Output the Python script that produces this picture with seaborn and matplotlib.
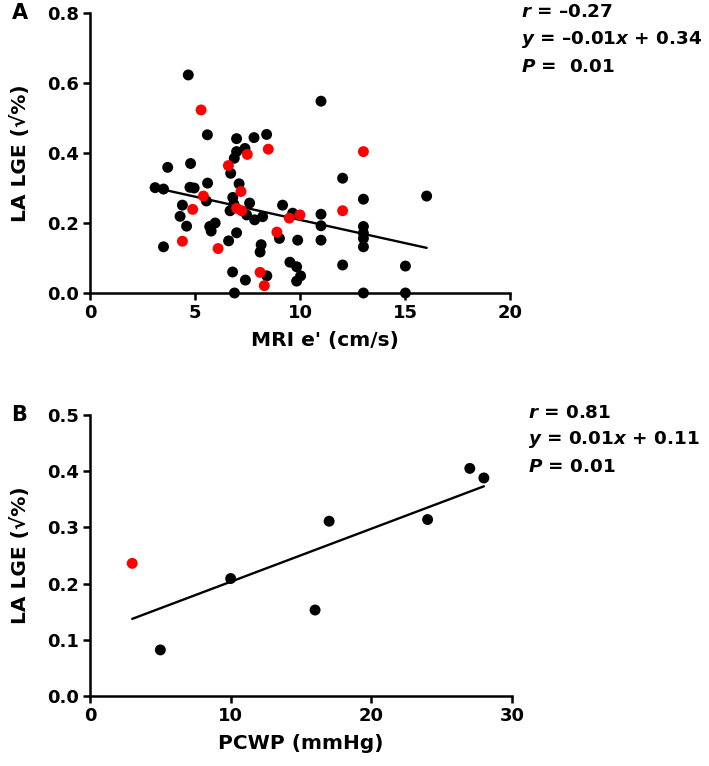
import matplotlib
matplotlib.use("Agg")
import matplotlib.pyplot as plt
import seaborn as sns
import pandas as pd
import numpy as np

# ---------------- data ----------------
# Panel A: MRI e' (cm/s) vs LA LGE (sqrt %)
a_black_x = [4.68, 5.59, 6.98, 7.81, 8.41, 7.38, 6.98, 6.87, 3.70, 4.79, 6.70, 3.10, 3.50,
             4.76, 4.96, 5.60, 7.10, 5.54, 6.80, 6.85, 7.60, 6.67, 4.40, 4.29, 4.60, 5.70,
             5.96, 5.77, 7.46, 7.84, 8.22, 6.98, 6.60, 3.50, 8.15, 8.10, 9.02, 6.79, 7.40,
             8.42, 6.88, 11.00, 12.03, 13.02, 9.17, 9.65, 11.00, 11.00, 13.02, 13.02, 13.02,
             13.02, 9.89, 11.00, 12.03, 9.52, 9.84, 10.03, 9.84, 13.02, 16.03, 15.02, 15.02]
a_black_y = [0.623, 0.452, 0.441, 0.444, 0.453, 0.413, 0.404, 0.385, 0.359, 0.370, 0.342,
             0.301, 0.297, 0.302, 0.300, 0.314, 0.312, 0.263, 0.273, 0.254, 0.257, 0.235,
             0.251, 0.219, 0.191, 0.190, 0.200, 0.177, 0.223, 0.209, 0.218, 0.172, 0.149,
             0.132, 0.138, 0.117, 0.156, 0.060, 0.037, 0.049, 0.000, 0.548, 0.328, 0.268,
             0.251, 0.228, 0.225, 0.192, 0.190, 0.171, 0.156, 0.132, 0.151, 0.151, 0.080,
             0.088, 0.075, 0.049, 0.034, 0.000, 0.277, 0.077, 0.000]
a_red_x = [5.29, 7.49, 8.49, 13.02, 6.59, 7.19, 5.40, 6.98, 7.22, 4.89, 9.49, 10.00,
           12.03, 8.90, 4.40, 6.10, 8.10, 8.30]
a_red_y = [0.523, 0.396, 0.411, 0.404, 0.364, 0.290, 0.277, 0.242, 0.235, 0.239, 0.214,
           0.223, 0.235, 0.174, 0.148, 0.127, 0.059, 0.021]
a_stats = ["$r$ = \u20130.27", "$y$ = \u20130.01$x$ + 0.34", "$P$ =  0.01"]

# Panel B: PCWP (mmHg) vs LA LGE (sqrt %)
b_black_x = [5, 10, 16, 17, 24, 27, 28]
b_black_y = [0.082, 0.209, 0.153, 0.311, 0.314, 0.405, 0.388]
b_red_x = [3]
b_red_y = [0.236]
b_stats = ["$r$ = 0.81", "$y$ = 0.01$x$ + 0.11", "$P$ = 0.01"]

a_xticks = [0, 5, 10, 15, 20]
a_yticks = [0.0, 0.2, 0.4, 0.6, 0.8]
b_xticks = [0, 10, 20, 30]
b_yticks = [0.0, 0.1, 0.2, 0.3, 0.4, 0.5]

# ---------------- style ----------------
sns.set_theme(style="ticks")
plt.rcParams["font.family"] = ["DejaVu Sans"]
plt.rcParams["font.weight"] = "bold"
plt.rcParams["axes.labelweight"] = "bold"
plt.rcParams["text.color"] = "black"
plt.rcParams["axes.labelcolor"] = "black"
plt.rcParams["xtick.color"] = "black"
plt.rcParams["ytick.color"] = "black"
plt.rcParams["mathtext.fontset"] = "custom"
plt.rcParams["mathtext.it"] = "DejaVu Sans:italic:bold"
plt.rcParams["mathtext.rm"] = "DejaVu Sans:bold"
plt.rcParams["mathtext.bf"] = "DejaVu Sans:bold"

fig = plt.figure(figsize=(7.09, 7.66), dpi=100)
W, H = 709, 766


def frac_axes(left, top, right, bottom):
    return fig.add_axes([left / W, 1 - bottom / H, (right - left) / W, (bottom - top) / H])


def make_df(bx, by, rx, ry):
    return pd.DataFrame({
        "x": list(bx) + list(rx),
        "y": list(by) + list(ry),
        "grp": ["black"] * len(bx) + ["red"] * len(rx),
    })


def panel(ax, df, xticks, yticks, xlabel, letter, stats, s, stat_x, stat_y0, stat_dy,
          xlabel_pos):
    sns.regplot(data=df, x="x", y="y", ax=ax, scatter=False, ci=None, truncate=True,
                line_kws=dict(color="black", lw=1.7, zorder=2))
    sns.scatterplot(data=df, x="x", y="y", hue="grp",
                    palette={"black": "#000000", "red": "#ff0000"},
                    s=s, edgecolor="none", linewidth=0, legend=False, ax=ax,
                    clip_on=False, zorder=3)
    ax.set_xlim(xticks[0], xticks[-1])
    ax.set_ylim(yticks[0], yticks[-1])
    ax.set_xticks(xticks)
    ax.set_yticks(yticks)
    ax.set_xticklabels([str(t) for t in xticks], fontsize=13, fontweight="bold")
    ax.set_yticklabels([f"{t:.1f}" for t in yticks], fontsize=13, fontweight="bold")
    ax.set_xlabel(xlabel, fontsize=14.5, fontweight="bold")
    ax.set_ylabel("LA LGE (\u221a%)", fontsize=14.5, fontweight="bold")
    ax.xaxis.set_label_coords(*xlabel_pos)
    ax.yaxis.set_label_coords(-0.142, 0.5)
    for sp in ["top", "right"]:
        ax.spines[sp].set_visible(False)
    for sp in ["left", "bottom"]:
        ax.spines[sp].set_linewidth(1.8)
        ax.spines[sp].set_color("black")
    ax.tick_params(axis="both", direction="out", length=5, width=1.8, colors="black",
                   pad=3)
    ax.text(-0.186, 1.0, letter, transform=ax.transAxes, fontsize=15, fontweight="bold",
            ha="left", va="center")
    for i, t in enumerate(stats):
        fig.text(stat_x / W, 1 - (stat_y0 + i * stat_dy) / H, t, fontsize=13.2,
                 fontweight="bold", ha="left", va="center")


axA = frac_axes(90, 13, 510, 293)
panel(axA, make_df(a_black_x, a_black_y, a_red_x, a_red_y), a_xticks, a_yticks,
      "MRI e' (cm/s)", "A", a_stats, 62, 521, 12, 27.5, (0.56, -0.135))

axB = frac_axes(90, 415, 512, 696)
panel(axB, make_df(b_black_x, b_black_y, b_red_x, b_red_y), b_xticks, b_yticks,
      "PCWP (mmHg)", "B", b_stats, 62, 528, 413, 27, (0.5, -0.135))

fig.savefig("out.png", dpi=100)
